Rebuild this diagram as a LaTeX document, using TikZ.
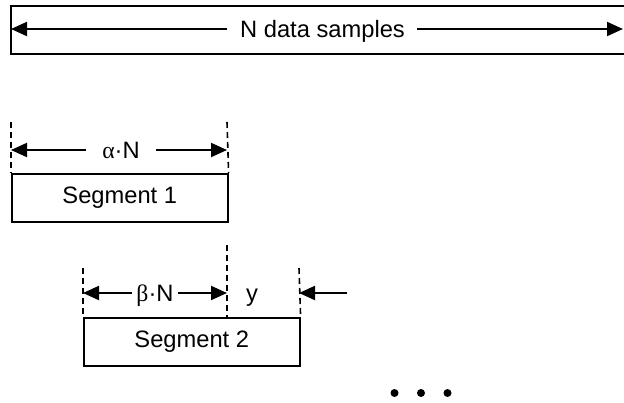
\documentclass[tikz,border=0pt]{standalone}
\usepackage{fontspec}
\setmainfont{Liberation Sans}
\newfontfamily\greekfont{Liberation Serif}
\usetikzlibrary{arrows.meta}
\tikzset{
  boxline/.style={draw, line width=1.6pt, inner sep=0pt},
  dimarrow/.style={line width=2pt, -{Triangle[length=16pt,width=14pt]}},
  guide/.style={line width=1.6pt, dash pattern=on 6pt off 4pt},
  lbl/.style={font=\fontsize{23.7}{26}\selectfont, inner sep=0pt, anchor=base},
  dot/.style={fill=black, circle, inner sep=0pt, minimum size=8pt}
}
\begin{document}
\begin{tikzpicture}[x=1pt,y=-1pt]
\useasboundingbox (0,0) rectangle (624,402);
\begin{scope}
\clip (0,0) rectangle (624,402);
% top box
\node[boxline, anchor=north west, minimum width=630pt, minimum height=48pt] (all) at (10,5) {};
\end{scope}
\node[lbl] (nlab) at (322.5,37.5) {N data samples};
\coordinate (nL) at (227,29);
\coordinate (nR) at (417,29);
\coordinate (nLt) at (11,29);
\coordinate (nRt) at (623,29);
\draw[dimarrow] (nL) -- (nLt);
\draw[dimarrow] (nR) -- (nRt);

% segment 1
\node[boxline, anchor=north west, minimum width=216pt, minimum height=48pt] (seg1) at (11,173) {};
\node[lbl, anchor=center] (seg1t) at (seg1.center) {Segment 1};
\coordinate (g1a) at (11,122);
\coordinate (g1b) at (227,122);
\draw[guide] (g1a) -- (seg1.north west);
\draw[guide] (g1b) -- (seg1.north east);
\node[lbl] (alab) at (121,158.5) {{\greekfont α}·N};
\coordinate (aL) at (86,150);
\coordinate (aR) at (156,150);
\coordinate (aLt) at (11,150);
\coordinate (aRt) at (227,150);
\draw[dimarrow] (aL) -- (aLt);
\draw[dimarrow] (aR) -- (aRt);

% segment 2
\node[boxline, anchor=north west, minimum width=216pt, minimum height=48pt] (seg2) at (83,317) {};
\node[lbl, anchor=center] (seg2t) at (seg2.center) {Segment 2};
\coordinate (g2a) at (83,268);
\coordinate (g2b) at (227,245);
\coordinate (g2bb) at (227,317);
\coordinate (g2c) at (299,268);
\draw[guide] (g2a) -- (seg2.north west);
\draw[guide] (g2b) -- (g2bb);
\draw[guide] (g2c) -- (seg2.north east);
\node[lbl] (blab) at (155,301.5) {{\greekfont β}·N};
\coordinate (bL) at (132,293);
\coordinate (bR) at (178,293);
\coordinate (bLt) at (83,293);
\coordinate (bRt) at (227,293);
\draw[dimarrow] (bL) -- (bLt);
\draw[dimarrow] (bR) -- (bRt);
\node[lbl] (ylab) at (252,301.5) {y};
\coordinate (yR) at (347,293);
\coordinate (yRt) at (299,293);
\draw[dimarrow] (yR) -- (yRt);

% dots
\node[dot] (d1) at (394.5,393) {};
\node[dot] (d2) at (421,393) {};
\node[dot] (d3) at (447.5,393) {};
\end{tikzpicture}
\end{document}
